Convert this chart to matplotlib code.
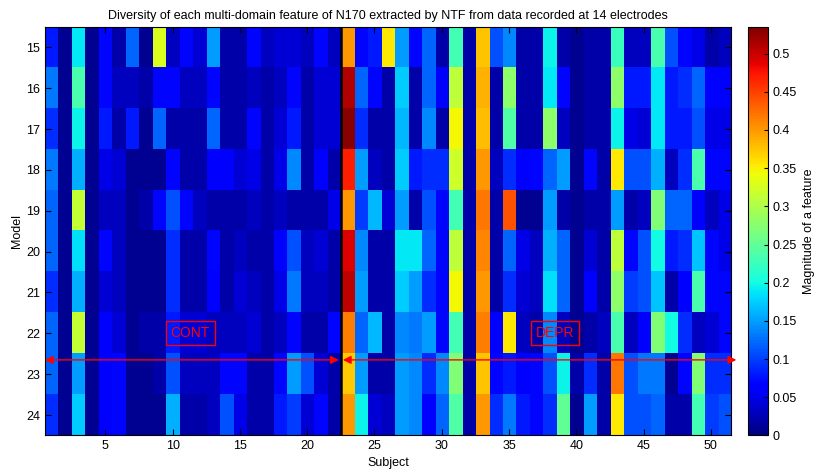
import numpy as np
import matplotlib.pyplot as plt

plt.rcParams['font.family'] = ['Liberation Sans', 'DejaVu Sans']

#%% data: one list per model, 51 subjects each
subjects = np.arange(1, 52)
models = np.arange(15, 25)

m15 = [0.08, 0.01, 0.19, 0.01, 0.07, 0.02, 0.12, 0.01, 0.33, 0.03,
       0.07, 0.04, 0.15, 0.02, 0.02, 0.07, 0.03, 0.04, 0.04, 0.03,
       0.07, 0.03, 0.40, 0.07, 0.08, 0.355, 0.15, 0.07, 0.12, 0.02,
       0.23, 0.02, 0.375, 0.11, 0.14, 0.02, 0.02, 0.195, 0.02, 0.01,
       0.02, 0.02, 0.225, 0.03, 0.03, 0.235, 0.11, 0.07, 0.05, 0.02, 0.03]
m16 = [0.13, 0.01, 0.235, 0.01, 0.07, 0.03, 0.03, 0.02, 0.07, 0.07,
       0.03, 0.03, 0.07, 0.02, 0.02, 0.03, 0.02, 0.03, 0.07, 0.02,
       0.04, 0.04, 0.51, 0.12, 0.07, 0.02, 0.175, 0.02, 0.12, 0.06,
       0.31, 0.02, 0.385, 0.02, 0.28, 0.02, 0.02, 0.19, 0.07, 0.01,
       0.02, 0.02, 0.28, 0.08, 0.08, 0.19, 0.08, 0.09, 0.12, 0.06, 0.06]
m17 = [0.09, 0.01, 0.195, 0.01, 0.08, 0.02, 0.08, 0.01, 0.12, 0.02,
       0.02, 0.02, 0.12, 0.02, 0.02, 0.07, 0.02, 0.04, 0.08, 0.02,
       0.04, 0.04, 0.53, 0.09, 0.02, 0.02, 0.165, 0.02, 0.14, 0.02,
       0.345, 0.02, 0.38, 0.02, 0.24, 0.02, 0.02, 0.28, 0.03, 0.01,
       0.02, 0.02, 0.195, 0.05, 0.04, 0.19, 0.08, 0.08, 0.11, 0.05, 0.05]
m18 = [0.13, 0.01, 0.16, 0.01, 0.05, 0.04, 0.01, 0.01, 0.01, 0.07,
       0.02, 0.02, 0.06, 0.06, 0.04, 0.05, 0.02, 0.05, 0.14, 0.02,
       0.06, 0.02, 0.47, 0.15, 0.03, 0.02, 0.175, 0.08, 0.09, 0.09,
       0.32, 0.02, 0.40, 0.03, 0.09, 0.06, 0.07, 0.12, 0.15, 0.01,
       0.07, 0.02, 0.355, 0.11, 0.11, 0.16, 0.03, 0.09, 0.235, 0.07, 0.07]
m19 = [0.12, 0.01, 0.315, 0.01, 0.03, 0.03, 0.01, 0.02, 0.07, 0.11,
       0.07, 0.03, 0.02, 0.02, 0.02, 0.03, 0.02, 0.03, 0.02, 0.02,
       0.02, 0.05, 0.40, 0.10, 0.165, 0.04, 0.15, 0.02, 0.11, 0.07,
       0.23, 0.02, 0.42, 0.02, 0.44, 0.01, 0.01, 0.15, 0.02, 0.01,
       0.02, 0.02, 0.15, 0.02, 0.03, 0.27, 0.12, 0.12, 0.06, 0.03, 0.05]
m20 = [0.12, 0.01, 0.185, 0.01, 0.07, 0.03, 0.01, 0.01, 0.01, 0.09,
       0.02, 0.02, 0.07, 0.02, 0.03, 0.02, 0.02, 0.06, 0.11, 0.03,
       0.04, 0.02, 0.49, 0.14, 0.02, 0.02, 0.19, 0.19, 0.12, 0.07,
       0.31, 0.02, 0.41, 0.02, 0.12, 0.05, 0.03, 0.16, 0.12, 0.01,
       0.04, 0.02, 0.31, 0.07, 0.11, 0.20, 0.08, 0.09, 0.17, 0.07, 0.05]
m21 = [0.09, 0.01, 0.16, 0.01, 0.04, 0.03, 0.01, 0.01, 0.01, 0.09,
       0.02, 0.02, 0.06, 0.02, 0.04, 0.03, 0.02, 0.05, 0.13, 0.03,
       0.03, 0.02, 0.505, 0.15, 0.02, 0.02, 0.175, 0.15, 0.09, 0.07,
       0.345, 0.02, 0.40, 0.02, 0.09, 0.04, 0.03, 0.185, 0.12, 0.01,
       0.06, 0.02, 0.28, 0.10, 0.11, 0.17, 0.02, 0.06, 0.235, 0.07, 0.07]
m22 = [0.12, 0.01, 0.315, 0.01, 0.06, 0.04, 0.01, 0.02, 0.02, 0.08,
       0.04, 0.04, 0.03, 0.03, 0.03, 0.04, 0.02, 0.03, 0.07, 0.02,
       0.02, 0.07, 0.415, 0.12, 0.165, 0.02, 0.14, 0.13, 0.15, 0.07,
       0.23, 0.02, 0.415, 0.06, 0.355, 0.03, 0.02, 0.14, 0.03, 0.01,
       0.02, 0.03, 0.235, 0.03, 0.06, 0.27, 0.20, 0.09, 0.03, 0.04, 0.07]
m23 = [0.12, 0.01, 0.15, 0.01, 0.06, 0.07, 0.01, 0.01, 0.02, 0.11,
       0.03, 0.03, 0.03, 0.07, 0.07, 0.02, 0.02, 0.07, 0.15, 0.11,
       0.04, 0.02, 0.37, 0.15, 0.02, 0.02, 0.15, 0.14, 0.09, 0.14,
       0.27, 0.02, 0.375, 0.07, 0.08, 0.06, 0.07, 0.11, 0.195, 0.02,
       0.09, 0.02, 0.42, 0.11, 0.13, 0.13, 0.01, 0.07, 0.27, 0.09, 0.09]
m24 = [0.09, 0.01, 0.175, 0.01, 0.06, 0.07, 0.01, 0.01, 0.01, 0.16,
       0.02, 0.02, 0.03, 0.11, 0.05, 0.02, 0.02, 0.08, 0.10, 0.04,
       0.07, 0.02, 0.40, 0.195, 0.04, 0.03, 0.15, 0.14, 0.06, 0.12,
       0.24, 0.02, 0.40, 0.09, 0.13, 0.08, 0.07, 0.09, 0.25, 0.01,
       0.15, 0.02, 0.355, 0.11, 0.11, 0.12, 0.02, 0.02, 0.23, 0.10, 0.11]

Z = np.array([m15, m16, m17, m18, m19, m20, m21, m22, m23, m24])

#%% figure
fig = plt.figure(figsize=(8.18, 4.75), dpi=100)
ax = fig.add_axes([0.0548, 0.0832, 0.8388, 0.8602])
cax = fig.add_axes([0.9145, 0.0832, 0.0245, 0.8602])

im = ax.imshow(Z, cmap='jet', vmin=0, vmax=0.535, aspect='auto',
               interpolation='nearest',
               extent=[subjects[0] - 0.5, subjects[-1] + 0.5,
                       models[-1] + 0.5, models[0] - 0.5])

# separator between the two groups
ax.axvline(22.5, color='black', lw=1.8)

# group arrows
ya = 22.65
ax.annotate('', xy=(0.5, ya), xytext=(22.35, ya), annotation_clip=False,
            arrowprops=dict(arrowstyle='<|-|>', color='red', lw=1,
                            mutation_scale=12, shrinkA=0, shrinkB=0))
ax.annotate('', xy=(22.65, ya), xytext=(51.9, ya), annotation_clip=False,
            arrowprops=dict(arrowstyle='<|-|>', color='red', lw=1,
                            mutation_scale=12, shrinkA=0, shrinkB=0))
box = dict(boxstyle='square,pad=0.35', fc='none', ec='red', lw=1)
ax.text(11.3, 22.0, 'CONT', color='red', fontsize=10, ha='center',
        va='center', bbox=box)
ax.text(38.4, 22.0, 'DEPR', color='red', fontsize=10, ha='center',
        va='center', bbox=box)

ax.set_xticks(np.arange(5, 51, 5))
ax.set_yticks(models)
ax.tick_params(direction='in', top=True, right=True, labelsize=9, length=4)
ax.set_xlabel('Subject', fontsize=9, labelpad=3)
ax.set_ylabel('Model', fontsize=9, labelpad=2)
ax.set_title('Diversity of each multi-domain feature of N170 extracted by NTF '
             'from data recorded at 14 electrodes', fontsize=9, pad=6)

cb = fig.colorbar(im, cax=cax, ticks=np.arange(0, 0.51, 0.05))
cb.ax.set_yticklabels(['0', '0.05', '0.1', '0.15', '0.2', '0.25', '0.3',
                       '0.35', '0.4', '0.45', '0.5'])
cb.ax.tick_params(direction='in', labelsize=9, length=3)
cb.set_label('Magnitude of a feature', fontsize=9)

plt.savefig('out.png', dpi=100)
